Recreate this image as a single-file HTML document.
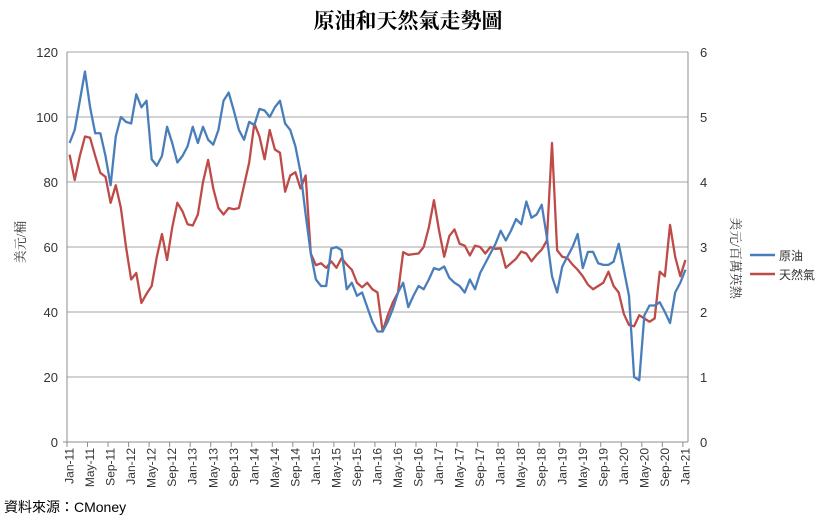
<!DOCTYPE html>
<html><head><meta charset="utf-8">
<style>
html,body{margin:0;padding:0;background:#fff;}
body{width:820px;height:521px;overflow:hidden;font-family:"Liberation Sans","Noto Sans CJK TC",sans-serif;}
</style></head>
<body>
<svg id="chart" width="820" height="521" xmlns="http://www.w3.org/2000/svg" font-family="Liberation Sans, Noto Sans CJK TC, sans-serif">
<text x="408" y="28" text-anchor="middle" font-family="Liberation Serif, Noto Serif CJK SC, serif" font-weight="bold" font-size="21" fill="#000">原油和天然氣走勢圖</text>
<g id="grid"></g>
<g id="axes"></g>
<g id="series"></g>
<text transform="translate(25,242) rotate(-90)" text-anchor="middle" font-size="13" fill="#333" font-family="Liberation Serif, Noto Serif CJK TC, serif">美元/桶</text>
<text transform="translate(731,258) rotate(90)" text-anchor="middle" font-size="13" fill="#333" font-family="Liberation Serif, Noto Serif CJK TC, serif">美元/百萬英熱</text>
<g>
<line x1="750" y1="255" x2="775" y2="255" stroke="#4a7ebb" stroke-width="2.5"/>
<text x="779" y="260" font-size="12" fill="#333">原油</text>
<line x1="750" y1="274" x2="775" y2="274" stroke="#be4b48" stroke-width="2.5"/>
<text x="779" y="279" font-size="12" fill="#333">天然氣</text>
</g>
<text x="4" y="512" font-size="14" fill="#000">資料來源：CMoney</text>
</svg>
<script>
const oil=[92,96,105,114,103,95,95,88,79,94,100,98.5,
98,107,103,105,87,85,88,97,92,86,88,91,
97,92,97,93,91.5,96,105,107.5,102,96,93,98.5,
97.5,102.5,102,100,103,105,98,96,91,83,70,58,
50,48,48,59.5,60,59,47,49,45,46,41.5,37,
34,34,37,41,46,49,41.5,45,48,47,50,53.5,
53,54,50.5,49,48,46,50,47,52,55,58,61,
65,62,65,68.6,67,74,69,70,73,63,51,46,
54,57,60,64,53.5,58.5,58.5,55,54.5,54.5,55.5,61,
53,45,20,19,39,42,42,43,40,36.6,46,49,53];
const gas=[4.42,4.03,4.4,4.7,4.68,4.4,4.14,4.08,3.68,3.95,3.6,3.0,
2.5,2.6,2.14,2.28,2.4,2.85,3.2,2.8,3.3,3.68,3.55,3.35,
3.33,3.5,4.0,4.34,3.9,3.6,3.5,3.6,3.58,3.6,3.95,4.3,
4.9,4.7,4.35,4.8,4.5,4.45,3.85,4.1,4.15,3.9,4.1,2.9,
2.72,2.75,2.68,2.78,2.68,2.83,2.73,2.65,2.45,2.38,2.45,2.35,
2.3,1.7,1.95,2.15,2.3,2.92,2.88,2.89,2.9,3.0,3.3,3.72,
3.25,2.85,3.17,3.27,3.05,3.02,2.87,3.02,3.0,2.9,3.0,2.97,
2.98,2.68,2.75,2.82,2.93,2.9,2.78,2.88,2.96,3.1,4.6,2.95,
2.85,2.83,2.73,2.65,2.55,2.42,2.35,2.4,2.45,2.62,2.4,2.3,
1.97,1.8,1.78,1.95,1.9,1.85,1.9,2.62,2.55,3.34,2.85,2.55,2.8];
const leftTicks=[0,20,40,60,80,100,120];
const rightTicks=[0,1,2,3,4,5,6];
const monthNames=["Jan","May","Sep"];
const NS="http://www.w3.org/2000/svg";
const X0=67,X1=688,Y0=442,Y1=52;
const n=oil.length, step=(X1-X0)/n;
function x(i){return X0+(i+0.5)*step;}
function yL(v){return Y0-(v/120)*(Y0-Y1);}
function yR(v){return Y0-(v/6)*(Y0-Y1);}
function mk(tag,attrs,parent){const e=document.createElementNS(NS,tag);for(const k in attrs)e.setAttribute(k,attrs[k]);parent.appendChild(e);return e;}
const grid=document.getElementById('grid'),axes=document.getElementById('axes'),ser=document.getElementById('series');
leftTicks.forEach((t,k)=>{
  const y=yL(t);
  if(t>0){const g=mk('line',{x1:X0,x2:X1,y1:y,y2:y,stroke:'#a6a6a6','stroke-width':1},grid);
  
  }
  const tl=mk('text',{x:X0-9,y:y+5,'text-anchor':'end','font-size':13,fill:'#333'},axes);
  tl.textContent=t;
  
  
});
rightTicks.forEach(t=>{
  const y=yR(t);
  const tl=mk('text',{x:X1+12,y:y+5,'font-size':13,fill:'#333'},axes);
  tl.textContent=t;
  
  
});
const la=mk('line',{x1:X0,x2:X0,y1:Y1,y2:Y0,stroke:'#8c8c8c'},axes);


const ra=mk('line',{x1:X1,x2:X1,y1:Y1,y2:Y0,stroke:'#8c8c8c'},axes);


const xa=mk('line',{x1:X0-4,x2:X1,y1:Y0,y2:Y0,stroke:'#8c8c8c'},axes);


for(let i=0;i<n;i+=4){
  const yr=11+Math.floor(i/12);
  const lab=monthNames[(i%12)/4]+'-'+yr;
  const tk=mk('line',{x1:X0+i*step,x2:X0+i*step,y1:Y0,y2:Y0+5,stroke:'#8c8c8c'},axes);
  
  
  const xx=x(i)+4;
  const tl=mk('text',{transform:`translate(${xx},${Y0+6}) rotate(-90)`,'text-anchor':'end','font-size':12,fill:'#333'},axes);
  tl.textContent=lab;
  
  
}
const gp=mk('polyline',{points:gas.map((v,i)=>x(i)+','+yR(v)).join(' '),fill:'none',stroke:'#be4b48','stroke-width':2.3,'stroke-linejoin':'round'},ser);


const op=mk('polyline',{points:oil.map((v,i)=>x(i)+','+yL(v)).join(' '),fill:'none',stroke:'#4a7ebb','stroke-width':2.3,'stroke-linejoin':'round'},ser);


</script>
</body></html>
